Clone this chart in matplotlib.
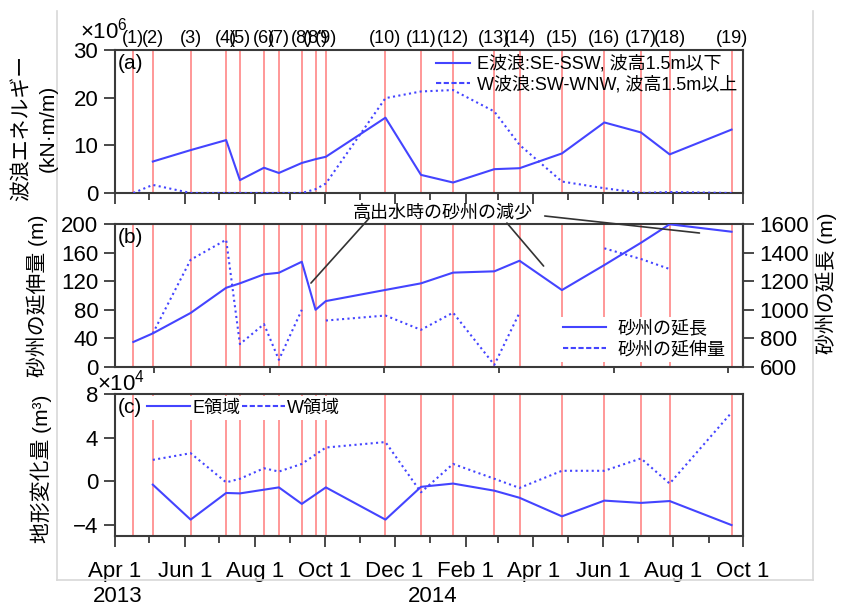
import numpy as np
import pandas as pd
import matplotlib
matplotlib.use('Agg')
import matplotlib.pyplot as plt
import matplotlib.dates as mdates
from matplotlib.lines import Line2D

plt.rcParams['font.family'] = ['Liberation Sans', 'Noto Sans CJK JP']
plt.rcParams['mathtext.fontset'] = 'custom'
plt.rcParams['mathtext.rm'] = 'Liberation Sans'
plt.rcParams['mathtext.it'] = 'Liberation Sans'

# survey numbers and dates
survey_labels = ['(1)', '(2)', '(3)', '(4)', '(5)', '(6)', '(7)', '(8)', "(8')", '(9)',
                 '(10)', '(11)', '(12)', '(13)', '(14)', '(15)', '(16)', '(17)', '(18)', '(19)']
survey_dates = pd.to_datetime([
    '2013-04-17', '2013-05-04', '2013-06-06', '2013-07-07', '2013-07-19',
    '2013-08-09', '2013-08-22', '2013-09-11', '2013-09-23', '2013-10-02',
    '2013-11-23', '2013-12-24', '2014-01-21', '2014-02-26', '2014-03-20',
    '2014-04-26', '2014-06-02', '2014-07-04', '2014-07-29', '2014-09-21'])

# (a) wave energy, x10^6 kN*m/m
e_wave = [np.nan, 6.6, 9.0, 11.1, 2.7, 5.3, 4.2, 6.3, 7.1, 7.6,
          15.8, 3.8, 2.2, 5.0, 5.2, 8.3, 14.8, 12.7, 8.1, 13.3]
w_wave = [0.0, 1.7, 0.0, 0.0, 0.0, 0.0, 0.0, 0.0, 0.8, 2.0,
          19.9, 21.3, 21.6, 17.1, 10.1, 2.4, 1.0, 0.0, 0.2, 0.0]

# (b) sand spit length (right axis) and elongation (left axis), m
spit_length = [775, 835, 978, 1154, 1185, 1248, 1259, 1336, 1000, 1061,
               1139, 1185, 1260, 1269, 1343, 1138, 1313, 1469, 1598, 1546]
spit_extension = [np.nan, 47, 150, 178, 32, 60, 10, 80, np.nan, 65,
                  72, 52, 76, 3, 76, np.nan, 166, 151, 137, np.nan]

# (c) topographic change, x10^4 m^3
e_change = [np.nan, -0.3, -3.5, -1.06, -1.1, -0.76, -0.55, -2.06, np.nan, -0.55,
            -3.5, -0.5, -0.2, -0.85, -1.5, -3.2, -1.76, -1.97, -1.8, -4.0]
w_change = [np.nan, 1.97, 2.58, -0.09, 0.24, 1.2, 0.9, 1.6, np.nan, 3.1,
            3.6, -1.0, 1.6, 0.24, -0.6, 0.97, 0.97, 2.1, -0.2, 6.3]

blue = '#4444ff'
red = '#ff9090'
dark = '#3a3a3a'
dotted = (0, (1.0, 1.6))
dashed = (0, (2.5, 1.2))

x_start = pd.Timestamp('2013-04-01')
x_end = pd.Timestamp('2014-10-01')

W, H = 842, 606


def px_box(left, top, right, bottom):
    return [left / W, 1 - bottom / H, (right - left) / W, (bottom - top) / H]


def connected(ax, values, **kw):
    v = np.asarray(values, dtype=float)
    ok = ~np.isnan(v)
    ax.plot(survey_dates[ok], v[ok], **kw)


def style(ax):
    for s in ax.spines.values():
        s.set_color(dark)
        s.set_linewidth(1.5)
    ax.tick_params(which='major', direction='out', length=8, width=1.3,
                   color=dark, labelsize=16, pad=4)
    ax.tick_params(which='minor', direction='out', length=5, width=1.3, color=dark)
    ax.set_xlim(x_start, x_end)
    for d in survey_dates:
        ax.axvline(d, color=red, lw=1.3, zorder=1)


fig = plt.figure(figsize=(W / 100, H / 100), dpi=100)

ax_a = fig.add_axes(px_box(115, 50, 743, 193))
ax_b = fig.add_axes(px_box(115, 224, 743, 367))
ax_c = fig.add_axes(px_box(115, 394, 743, 536))

for ax in (ax_a, ax_b, ax_c):
    style(ax)

for ax in (ax_a, ax_c):
    ax.xaxis.set_major_locator(mdates.MonthLocator(bymonth=(2, 4, 6, 8, 10, 12)))
    ax.xaxis.set_minor_locator(mdates.MonthLocator())
ax_a.tick_params(axis='x', labelbottom=False)
ax_c.tick_params(axis='x', which='major', pad=10)
ax_c.xaxis.set_major_formatter(
    plt.FuncFormatter(lambda v, pos: f"{mdates.num2date(v):%b} {mdates.num2date(v).day}"))

# (a) wave energy
connected(ax_a, e_wave, color=blue, lw=1.5, zorder=3)
ax_a.plot(survey_dates, w_wave, color=blue, lw=1.5, ls=dotted, zorder=3)
ax_a.set_ylim(0, 30)
ax_a.set_yticks([0, 10, 20, 30])
ax_a.text(0.005, 0.97, '(a)', transform=ax_a.transAxes, va='top', ha='left', fontsize=15)
handles_a = [Line2D([], [], color=blue, lw=1.5),
             Line2D([], [], color=blue, lw=1.5, ls=dashed)]
ax_a.legend(handles_a, ['E波浪:SE-SSW, 波高1.5m以下', 'W波浪:SW-WNW, 波高1.5m以上'],
            loc='upper right', frameon=False, fontsize=13, handlelength=1.9,
            handletextpad=0.4, labelspacing=0.15, borderaxespad=0.1, borderpad=0.2)

# survey numbers along the top
for lab, d in zip(survey_labels, survey_dates):
    ax_a.text(d, 1.02, lab, transform=ax_a.get_xaxis_transform(),
              ha='center', va='bottom', fontsize=13, clip_on=False)

# (b) sand spit
ax_b.xaxis.set_major_locator(plt.FixedLocator(mdates.date2num(pd.to_datetime(
    ['2013-05-05', '2013-08-14', '2013-11-22', '2014-03-02', '2014-06-10', '2014-09-18']))))
ax_b.tick_params(axis='x', which='major', length=4, labelbottom=False)
ax_b.plot(survey_dates, spit_extension, color=blue, lw=1.5, ls=dotted, zorder=3)
ax_b.set_ylim(0, 200)
ax_b.set_yticks(range(0, 201, 40))
ax_b.text(0.005, 0.97, '(b)', transform=ax_b.transAxes, va='top', ha='left', fontsize=15)

ax_b2 = ax_b.twinx()
for s in ax_b2.spines.values():
    s.set_visible(False)
ax_b2.spines['right'].set_visible(True)
ax_b2.spines['right'].set_color(dark)
ax_b2.spines['right'].set_linewidth(1.5)
ax_b2.tick_params(direction='out', length=8, width=1.3, color=dark, labelsize=16, pad=4)
ax_b2.plot(survey_dates, spit_length, color=blue, lw=1.5, zorder=3)
ax_b2.set_ylim(600, 1600)
ax_b2.set_yticks(range(600, 1601, 200))
ax_b2.set_xlim(x_start, x_end)
handles_b = [Line2D([], [], color=blue, lw=1.5),
             Line2D([], [], color=blue, lw=1.5, ls=dashed)]
ax_b2.legend(handles_b, ['砂州の延長', '砂州の延伸量'], loc='lower right',
             bbox_to_anchor=(0.986, 0.0), fontsize=13, handlelength=2.4,
             handletextpad=0.6, labelspacing=0.2, borderaxespad=0.3, borderpad=0.2,
             frameon=True, fancybox=False, edgecolor='none',
             facecolor='white', framealpha=1)

# decrease of the spit during floods
ax_b2.text(pd.Timestamp('2014-01-12'), 1677, '高出水時の砂州の減少',
           ha='center', va='center', fontsize=13, clip_on=False)
notes = [(('2013-11-09', 1642), ('2013-09-19', 1187)),
         (('2014-03-09', 1607), ('2014-04-10', 1306)),
         (('2014-04-11', 1656), ('2014-08-24', 1537))]
for (t0, y0), (t1, y1) in notes:
    ax_b2.annotate('', xy=(pd.Timestamp(t1), y1), xytext=(pd.Timestamp(t0), y0),
                   arrowprops=dict(arrowstyle='-', color='#333333', lw=1.2,
                                   shrinkA=0, shrinkB=0),
                   annotation_clip=False)

# (c) topographic change
connected(ax_c, e_change, color=blue, lw=1.5, zorder=3)
connected(ax_c, w_change, color=blue, lw=1.5, ls=dotted, zorder=3)
ax_c.set_ylim(-5, 8)
ax_c.set_yticks([-4, 0, 4, 8])
ax_c.text(0.005, 0.97, '(c)', transform=ax_c.transAxes, va='top', ha='left', fontsize=15)
handles_c = [Line2D([], [], color=blue, lw=1.5),
             Line2D([], [], color=blue, lw=1.5, ls=dashed)]
ax_c.legend(handles_c, ['E領域', 'W領域'], loc='upper left', ncol=2,
            bbox_to_anchor=(0.045, 0.985), fontsize=13, handlelength=2.4,
            handletextpad=0.1, columnspacing=0.1, borderaxespad=0, borderpad=0.2,
            frameon=True, fancybox=False, edgecolor='none',
            facecolor='white', framealpha=1)

# axis titles and multipliers
fig.text(22 / W, 1 - 128 / H, '波浪エネルギー', rotation=90, ha='center', va='center', fontsize=15)
fig.text(48 / W, 1 - 128 / H, '(kN·m/m)', rotation=90, ha='center', va='center', fontsize=15)
fig.text(37 / W, 1 - 296 / H, '砂州の延伸量 (m)', rotation=90, ha='center', va='center', fontsize=15)
fig.text(826 / W, 1 - 283 / H, '砂州の延長 (m)', rotation=90, ha='center', va='center', fontsize=15)
fig.text(41 / W, 1 - 469 / H, '地形変化量 (m³)', rotation=90, ha='center', va='center', fontsize=15)
fig.text(80 / W, 1 - 38 / H, '×10$^6$', ha='left', va='baseline', fontsize=16)
fig.text(97 / W, 1 - 390 / H, '×10$^4$', ha='left', va='baseline', fontsize=16)
fig.text(118 / W, 1 - 597 / H, '2013', ha='center', va='center', fontsize=16)
fig.text(433 / W, 1 - 597 / H, '2014', ha='center', va='center', fontsize=16)

# light frame around the panels
frame = dict(color='#d8d8d8', lw=1.2, transform=fig.transFigure)
fig.add_artist(Line2D([57 / W, 57 / W], [1 - 11 / H, 1 - 580 / H], **frame))
fig.add_artist(Line2D([813 / W, 813 / W], [1 - 11 / H, 1 - 580 / H], **frame))
fig.add_artist(Line2D([57 / W, 813 / W], [1 - 580 / H, 1 - 580 / H], **frame))

fig.savefig('out.png', dpi=100)
